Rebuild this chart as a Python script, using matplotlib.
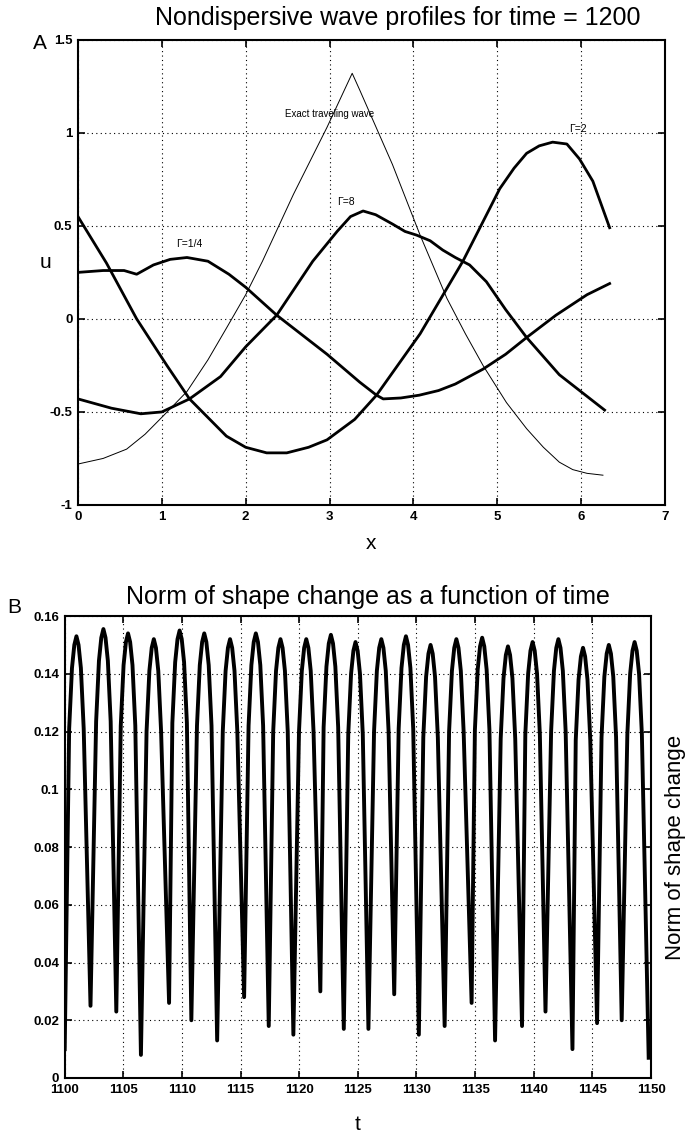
import numpy as np
import matplotlib
matplotlib.use("Agg")
import matplotlib.pyplot as plt

plt.rcParams['font.family'] = ['Liberation Sans', 'DejaVu Sans']

# ---- panel A: wave profiles at time = 1200 ----
x_exact = [0, 0.3, 0.58, 0.8, 1.02, 1.3, 1.55, 1.77, 2.0, 2.2, 2.57, 2.97, 3.27,
           3.36, 3.75, 4.08, 4.4, 4.62, 4.83, 5.11, 5.35, 5.55, 5.74, 5.9, 6.07, 6.26]
u_exact = [-0.78, -0.75, -0.70, -0.62, -0.52, -0.39, -0.22, -0.05, 0.13, 0.31, 0.67, 1.03, 1.32,
           1.23, 0.83, 0.45, 0.11, -0.08, -0.25, -0.45, -0.59, -0.69, -0.77, -0.81, -0.83, -0.84]

x_g14 = [0, 0.3, 0.55, 0.7, 0.9, 1.1, 1.3, 1.55, 1.8, 2.0, 2.37, 2.97, 3.36,
         3.56, 3.64, 3.85, 4.07, 4.3, 4.5, 4.83, 5.1, 5.35, 5.7, 6.07, 6.34]
u_g14 = [0.25, 0.26, 0.26, 0.24, 0.29, 0.32, 0.33, 0.31, 0.24, 0.17, 0.02, -0.19, -0.34,
         -0.41, -0.43, -0.425, -0.41, -0.385, -0.35, -0.27, -0.19, -0.10, 0.02, 0.13, 0.19]

x_g2 = [0, 0.34, 0.7, 1.06, 1.33, 1.77, 2.0, 2.25, 2.49, 2.75, 2.97, 3.3, 3.56,
        4.08, 4.59, 5.03, 5.2, 5.35, 5.5, 5.66, 5.83, 5.98, 6.14, 6.34]
u_g2 = [0.55, 0.30, 0.0, -0.25, -0.43, -0.63, -0.69, -0.72, -0.72, -0.69, -0.65, -0.54, -0.41,
        -0.08, 0.31, 0.70, 0.81, 0.89, 0.93, 0.95, 0.94, 0.86, 0.74, 0.49]

x_g8 = [0, 0.4, 0.75, 1.0, 1.33, 1.7, 2.0, 2.37, 2.8, 3.09, 3.25, 3.4, 3.55, 3.75,
        3.9, 4.04, 4.2, 4.35, 4.5, 4.67, 4.87, 5.1, 5.35, 5.74, 6.28]
u_g8 = [-0.43, -0.48, -0.51, -0.50, -0.43, -0.31, -0.15, 0.02, 0.31, 0.47, 0.55, 0.58, 0.56, 0.51,
        0.47, 0.45, 0.42, 0.37, 0.33, 0.29, 0.20, 0.05, -0.10, -0.30, -0.49]

# ---- panel B: norm of shape change ----
peak_t = [1101.0, 1103.3, 1105.4, 1107.6, 1109.8, 1111.9, 1114.1, 1116.3, 1118.4, 1120.6,
          1122.7, 1124.8, 1127.0, 1129.1, 1131.2, 1133.4, 1135.6, 1137.8, 1139.9, 1142.1,
          1144.2, 1146.4, 1148.6]
peak_v = [0.153, 0.1555, 0.154, 0.152, 0.155, 0.154, 0.152, 0.154, 0.152, 0.152,
          0.1535, 0.151, 0.152, 0.153, 0.150, 0.152, 0.1525, 0.1495, 0.151, 0.152,
          0.149, 0.150, 0.151]
trough_t = [1102.2, 1104.4, 1106.5, 1108.9, 1110.8, 1113.0, 1115.3, 1117.4, 1119.5, 1121.8,
            1123.8, 1125.9, 1128.1, 1130.2, 1132.4, 1134.7, 1136.7, 1139.0, 1141.0, 1143.3,
            1145.4, 1147.5, 1149.8]
trough_v = [0.025, 0.023, 0.008, 0.026, 0.020, 0.013, 0.028, 0.018, 0.015, 0.030,
            0.017, 0.017, 0.029, 0.015, 0.018, 0.026, 0.013, 0.018, 0.023, 0.010,
            0.019, 0.020, 0.007]
start_t, start_v = 1100.0, 0.01
# rounded top of each peak: offsets from the peak and drop below it
cap_dt = [-0.62, -0.38, -0.18, 0.0, 0.18, 0.38, 0.62]
cap_drop = [0.032, 0.011, 0.003, 0.0, 0.003, 0.011, 0.032]

fig = plt.figure(figsize=(6.98, 11.44), dpi=100)

grid_kw = dict(color='k', linestyle=(0, (1, 3)), linewidth=0.8)

# ---------- A ----------
axA = fig.add_axes([0.1117, 0.5586, 0.841, 0.4066])
axA.plot(x_exact, u_exact, color='k', lw=0.7)
axA.plot(x_g14, u_g14, color='k', lw=2.0, solid_joinstyle='round')
axA.plot(x_g2, u_g2, color='k', lw=2.0, solid_joinstyle='round')
axA.plot(x_g8, u_g8, color='k', lw=2.0, solid_joinstyle='round')
axA.text(3.0, 1.1, 'Exact traveling wave', fontsize=7, ha='center', va='center')
axA.text(1.33, 0.40, 'Γ=1/4', fontsize=7.5, ha='center', va='center')
axA.text(3.2, 0.63, 'Γ=8', fontsize=7.5, ha='center', va='center')
axA.text(5.96, 1.02, 'Γ=2', fontsize=7.5, ha='center', va='center')
axA.set_xlim(0, 7)
axA.set_ylim(-1, 1.5)
axA.set_xticks(range(0, 8))
axA.set_yticks([-1, -0.5, 0, 0.5, 1, 1.5])
axA.set_yticklabels(['-1', '-0.5', '0', '0.5', '1', '1.5'])
axA.grid(True, **grid_kw)
axA.set_xlabel('x', fontsize=15, labelpad=8)
axA.set_ylabel('u', fontsize=15, rotation=0, labelpad=14)
axA.yaxis.set_label_coords(-0.055, 0.5)

# ---------- B ----------
tt = [start_t]
vv = [start_v]
for tp, vp, tr, vr in zip(peak_t, peak_v, trough_t, trough_v):
    for d, dr in zip(cap_dt, cap_drop):
        tt.append(tp + d)
        vv.append(vp - dr)
    tt.append(tr)
    vv.append(vr)

axB = fig.add_axes([0.0927, 0.0577, 0.84, 0.4038])
axB.plot(tt, vv, color='k', lw=2.8, solid_joinstyle='round')
axB.set_xlim(1100, 1150)
axB.set_ylim(0, 0.16)
axB.set_xticks(range(1100, 1151, 5))
axB.set_yticks(np.arange(0, 0.161, 0.02))
axB.set_yticklabels(['0', '0.02', '0.04', '0.06', '0.08', '0.1', '0.12', '0.14', '0.16'])
axB.grid(True, **grid_kw)
axB.set_xlabel('t', fontsize=15, labelpad=14)
axB.yaxis.set_label_position('right')
axB.set_ylabel('Norm of shape change', fontsize=16, labelpad=10)

for ax in (axA, axB):
    ax.tick_params(direction='in', top=True, right=True, length=5, width=1.2, pad=4)
    for lab in ax.get_xticklabels() + ax.get_yticklabels():
        lab.set_fontsize(9.5)
        lab.set_fontweight('bold')
    for sp in ax.spines.values():
        sp.set_linewidth(1.5)
    ax.set_axisbelow(True)

fig.text(0.57, 0.984, 'Nondispersive wave profiles for time = 1200',
         fontsize=18, ha='center', va='center')
fig.text(0.527, 0.478, 'Norm of shape change as a function of time',
         fontsize=18, ha='center', va='center')
fig.text(0.057, 0.962, 'A', fontsize=15, ha='center', va='center')
fig.text(0.02, 0.469, 'B', fontsize=15, ha='center', va='center')

fig.savefig('out.png', dpi=100, facecolor='white')
